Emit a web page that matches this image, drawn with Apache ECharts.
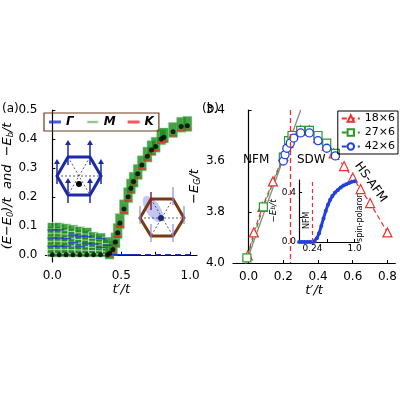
<!DOCTYPE html><html><head><meta charset="utf-8"><script src="https://cdn.jsdelivr.net/npm/echarts@6/dist/echarts.min.js"></script>
<style>body{margin:0}#c{width:400px;height:400px}</style></head><body><div id="c"></div><script>
// Left panel: excitation levels for t'<=0.4
const lowX=[0,0.05,0.1,0.15,0.2,0.25,0.3,0.35,0.4];
const lowLevels=[[0.003,0.016,0.03,0.044,0.058,0.072,0.086,0.1],[0.003,0.016,0.03,0.044,0.058,0.072,0.086,0.1],[0.003,0.016,0.03,0.043,0.056,0.07,0.083,0.096],[0.003,0.016,0.029,0.042,0.055,0.068,0.08,0.092],[0.003,0.015,0.028,0.04,0.052,0.064,0.076,0.087],[0.003,0.015,0.027,0.039,0.05,0.062,0.073,0.083],[0.003,0.015,0.026,0.037,0.048,0.058,0.068],[0.003,0.014,0.025,0.035,0.045,0.055,0.064],[0.003,0.013,0.023,0.033,0.042,0.05]];
const lowBlue=[[0.03,0.058,0.086],[0.03,0.058,0.086],[0.03,0.056],[0.042,0.068],[0.028,0.064],[0.039,0.062],[0.037],[0.025,0.055],[0.033]];
// Binding energy -E_b/t
const ebX=[0,0.05,0.1,0.15,0.2,0.25,0.3,0.35,0.4,0.415,0.44,0.458,0.474,0.49,0.52,0.55,0.57,0.59,0.62,0.65,0.69,0.72,0.75,0.79,0.81,0.876,0.935,0.98];
const ebY=[0,0,0,0,0,0,0,0,0,0.005,0.018,0.044,0.076,0.11,0.158,0.2,0.23,0.253,0.28,0.31,0.34,0.362,0.374,0.4,0.406,0.425,0.443,0.446];
// Right panel: ground-state energy
const x18=[-0.005,0.03,0.08,0.14,0.2,0.23,0.25,0.3,0.35,0.4,0.45,0.49,0.55,0.6,0.645,0.7,0.8];
const y18=[3.97,3.88,3.78,3.68,3.58,3.53,3.5,3.48,3.48,3.51,3.54,3.57,3.62,3.665,3.71,3.765,3.88];
const x27=[-0.01,0.085,0.2,0.23,0.25,0.3,0.35,0.4,0.45,0.5];
const y27=[3.98,3.78,3.585,3.52,3.5,3.48,3.48,3.5,3.53,3.57];
const x42=[0.2,0.21,0.22,0.24,0.26,0.3,0.35,0.4,0.45,0.5];
const y42=[3.6,3.575,3.55,3.53,3.51,3.49,3.49,3.52,3.55,3.58];
const fitX=[-0.02,0.3], fitY=[4.01,3.4];
// Inset
const inX=[0,0.05,0.1,0.15,0.2,0.25,0.28,0.32,0.36,0.4,0.44,0.48,0.52,0.56,0.6,0.65,0.7,0.75,0.8,0.85,0.9,0.95,1.0];
const inY=[0,0,0,0,0,0,0.005,0.03,0.07,0.13,0.19,0.25,0.3,0.34,0.37,0.4,0.42,0.44,0.455,0.465,0.475,0.485,0.49];

const ch=echarts.init(document.getElementById('c'));
const F='DejaVu Sans';
const green=[],blue=[],ghi=[],red=[];
lowX.forEach((x,i)=>{lowLevels[i].forEach(v=>green.push([x,v]));lowBlue[i].forEach(v=>blue.push([x,v]));});
ebX.forEach((x,i)=>{if(x>0.41){ghi.push([x,ebY[i]+0.006]);red.push([x,ebY[i]-0.013]);}});
const z=(a,b)=>a.map((v,i)=>[v,b[i]]);
const ax={axisLine:{lineStyle:{color:'#000',width:1.2}},axisTick:{inside:true,length:3,lineStyle:{color:'#000'}},splitLine:{show:false},axisLabel:{color:'#000',fontFamily:F,fontSize:12}};
const rich={i:{fontStyle:'italic',fontFamily:F,fontSize:13,color:'#000'},s:{fontStyle:'italic',fontFamily:F,fontSize:8,color:'#000',verticalAlign:'bottom',padding:[6,0,0,0]}};
ch.setOption({
animation:false,
grid:[{left:39,top:110,width:158,height:152},{left:233,top:110,width:165,height:153},{left:298,top:180,width:61,height:62}],
legend:[{data:[{name:'Γ',icon:'rect',itemStyle:{color:'#2030d0'}},{name:'M',icon:'rect',itemStyle:{color:'#1a8a1a'}},{name:'K',icon:'rect',itemStyle:{color:'#f03030'}}],left:44,top:113,orient:'horizontal',itemGap:12,itemWidth:12,itemHeight:3,borderColor:'#6b3a1f',borderWidth:1.2,padding:[3,5],textStyle:{fontFamily:F,fontSize:12,fontWeight:'bold',fontStyle:'italic',color:'#000'}},
{data:['18×6','27×6','42×6'],right:2,top:111,orient:'vertical',itemGap:3,itemWidth:18,itemHeight:8,borderColor:'#000',borderWidth:1,padding:[2,3],textStyle:{fontFamily:F,fontSize:11,color:'#000'}}],
xAxis:[Object.assign({},ax,{gridIndex:0,type:'value',min:-0.05,max:1.05,axisLabel:Object.assign({},ax.axisLabel,{customValues:[0,0.5,1],formatter:v=>v.toFixed(1)}),axisTick:Object.assign({},ax.axisTick,{customValues:[0,0.25,0.5,0.75,1]}),name:"{i|t′/t}",nameLocation:'middle',nameGap:18,nameTextStyle:{rich}}),
Object.assign({},ax,{gridIndex:1,type:'value',min:-0.09,max:0.845,axisLabel:Object.assign({},ax.axisLabel,{customValues:[0,0.2,0.4,0.6,0.8],formatter:v=>v.toFixed(1)}),axisTick:Object.assign({},ax.axisTick,{customValues:[0,0.2,0.4,0.6,0.8]}),name:"{i|t′/t}",nameLocation:'middle',nameGap:18,nameTextStyle:{rich}}),
Object.assign({},ax,{gridIndex:2,type:'value',min:-0.02,max:1.08,axisLabel:{color:'#000',fontFamily:F,fontSize:9,margin:2,customValues:[0,0.24,1],formatter:v=>v==0.24?'0.24':v.toFixed(1)},axisTick:Object.assign({},ax.axisTick,{customValues:[0,0.5,1]})})],
yAxis:[Object.assign({},ax,{gridIndex:0,type:'value',min:-0.025,max:0.5,axisLabel:Object.assign({},ax.axisLabel,{customValues:[0,0.1,0.2,0.3,0.4,0.5],formatter:v=>v.toFixed(1)}),axisTick:Object.assign({},ax.axisTick,{customValues:[0,0.1,0.2,0.3,0.4,0.5]}),name:"{i|(E−E}{s|0}{i|)/t  and  −E}{s|b}{i|/t}",nameLocation:'middle',nameGap:26,nameTextStyle:{rich}}),
Object.assign({},ax,{gridIndex:1,type:'value',min:3.4,max:4.0,interval:0.2,inverse:true,axisLabel:Object.assign({},ax.axisLabel,{formatter:v=>v.toFixed(1)}),name:"{i|−E}{s|G}{i|/t}",nameLocation:'middle',nameGap:24,nameTextStyle:{rich}}),
Object.assign({},ax,{gridIndex:2,type:'value',min:0,max:0.5,axisLabel:{color:'#000',fontFamily:F,fontSize:9,margin:2,customValues:[0,0.4],formatter:v=>v.toFixed(1)},axisTick:Object.assign({},ax.axisTick,{customValues:[0,0.2,0.4]}),name:"{i|−E}{s|b}{i|/t}",nameLocation:'middle',nameGap:14,nameTextStyle:{rich:{i:{fontStyle:'italic',fontSize:9,fontFamily:F},s:{fontStyle:'italic',fontSize:6,fontFamily:F}}}})],
series:[
{name:'M',type:'scatter',xAxisIndex:0,yAxisIndex:0,symbol:'rect',symbolSize:[10,6.5],itemStyle:{color:'#1a8a1a',borderColor:'#fff',borderWidth:0.7},data:green,z:2},
{name:'Γ',type:'scatter',xAxisIndex:0,yAxisIndex:0,symbol:'rect',symbolSize:[10,1.5],itemStyle:{color:'#2030d0'},data:blue,z:3},
{name:'M',type:'scatter',xAxisIndex:0,yAxisIndex:0,symbol:'rect',symbolSize:[9,15],itemStyle:{color:'#1a8a1a',borderColor:'#7fd07f',borderWidth:0.5},data:ghi,z:2},
{name:'K',type:'scatter',xAxisIndex:0,yAxisIndex:0,symbol:'rect',symbolSize:[8,1.5],itemStyle:{color:'#f03030'},data:red,z:3},
{name:'Γ',type:'line',xAxisIndex:0,yAxisIndex:0,showSymbol:false,lineStyle:{color:'#2030d0',width:1.5},data:[[0.4,0],[0.6,0]]},
{name:'Γ',type:'line',xAxisIndex:0,yAxisIndex:0,showSymbol:false,lineStyle:{color:'#2030d0',width:1.5,type:[6,4]},data:[[0.6,0],[1.0,0]]},
{type:'scatter',xAxisIndex:0,yAxisIndex:0,symbolSize:5,itemStyle:{color:'#000'},data:z(ebX,ebY),z:4},
{type:'line',xAxisIndex:1,yAxisIndex:1,showSymbol:false,lineStyle:{color:'#888',width:1.3},data:z(fitX,fitY)},
{name:'18×6',type:'line',xAxisIndex:1,yAxisIndex:1,symbol:'triangle',symbolSize:9,lineStyle:{color:'#f03030',width:1.2,type:[5,3]},itemStyle:{color:'#fff',borderColor:'#f03030',borderWidth:1.2},data:z(x18,y18)},
{name:'27×6',type:'line',xAxisIndex:1,yAxisIndex:1,symbol:'rect',symbolSize:8,lineStyle:{color:'#2a9a2a',width:1.2,type:[5,3]},itemStyle:{color:'#fff',borderColor:'#2a9a2a',borderWidth:1.2},data:z(x27,y27)},
{name:'42×6',type:'line',xAxisIndex:1,yAxisIndex:1,symbol:'circle',symbolSize:8,lineStyle:{color:'#2040e0',width:1.2,type:[5,3]},itemStyle:{color:'#fff',borderColor:'#2040e0',borderWidth:1.3},data:z(x42,y42),
 markLine:{silent:true,symbol:'none',label:{show:false},lineStyle:{color:'#f03030',type:[5,3],width:1.3},data:[{xAxis:0.24}]}},
{type:'line',xAxisIndex:2,yAxisIndex:2,symbol:'circle',symbolSize:4,lineStyle:{color:'#2040e0',width:3},itemStyle:{color:'#2040e0'},data:z(inX,inY),
 markLine:{silent:true,symbol:'none',label:{show:false},lineStyle:{color:'#f03030',type:[4,3],width:1.2},data:[{xAxis:0.24}]}}
],
graphic:[
{type:'text',left:2,top:103,style:{text:'(a)',font:'12px DejaVu Sans'}},
{type:'text',left:202,top:103,style:{text:'(b)',font:'12px DejaVu Sans'}},
{type:'text',left:243,top:154,style:{text:'NFM',font:'12px DejaVu Sans'}},
{type:'text',left:297,top:154,style:{text:'SDW',font:'12px DejaVu Sans'}},
{type:'text',x:362,y:160,rotation:-0.95,style:{text:'HS-AFM',font:'12px DejaVu Sans'}},
{type:'text',x:303,y:229,rotation:Math.PI/2,style:{text:'NFM',font:'8px DejaVu Sans'}},
{type:'text',x:356,y:242,rotation:Math.PI/2,style:{text:'spin-polaron',font:'8px DejaVu Sans'}},
{type:'polygon',shape:{points:[[57,176],[68,157],[90,157],[101,176],[90,195],[68,195]]},style:{fill:'none',stroke:'#1c2aa8',lineWidth:3}},
{type:'polyline',shape:{points:[[57,176],[101,176]]},style:{stroke:'#333',lineDash:[2,2],lineWidth:0.8}},
{type:'polyline',shape:{points:[[68,157],[90,195]]},style:{stroke:'#333',lineDash:[2,2],lineWidth:0.8}},
{type:'polyline',shape:{points:[[90,157],[68,195]]},style:{stroke:'#333',lineDash:[2,2],lineWidth:0.8}},
{type:'circle',shape:{cx:79,cy:184,r:3},style:{fill:'#000'}},
...[[57,176],[68,157],[90,157],[101,176],[90,195],[68,195]].map(p=>({type:'polyline',shape:{points:[[p[0],p[1]+8],[p[0],p[1]-14]]},style:{stroke:'#1c2aa8',lineWidth:1.5}})),
...[[57,176],[68,157],[90,157],[101,176],[90,195],[68,195]].map(p=>({type:'polygon',shape:{points:[[p[0]-3,p[1]-12],[p[0]+3,p[1]-12],[p[0],p[1]-17]]},style:{fill:'#1c2aa8'}})),
{type:'ellipse',shape:{cx:153,cy:209,rx:7,ry:15},rotation:0.6,originX:153,originY:209,style:{fill:'rgba(120,130,230,0.45)'}},
{type:'polygon',shape:{points:[[140,218],[151,199],[173,199],[184,218],[173,236],[151,236]]},style:{fill:'none',stroke:'#7a3a10',lineWidth:3}},
{type:'polyline',shape:{points:[[140,218],[184,218]]},style:{stroke:'#333',lineDash:[2,2],lineWidth:0.8}},
{type:'polyline',shape:{points:[[151,199],[173,236]]},style:{stroke:'#333',lineDash:[2,2],lineWidth:0.8}},
{type:'polyline',shape:{points:[[173,199],[151,236]]},style:{stroke:'#333',lineDash:[2,2],lineWidth:0.8}},
{type:'circle',shape:{cx:161,cy:218,r:3},style:{fill:'#1c2a70'}},
...[[140,218],[173,199],[184,218],[173,236],[151,236]].map(p=>({type:'polyline',shape:{points:[[p[0],p[1]+6],[p[0],p[1]-12]]},style:{stroke:'#8a8ae0',lineWidth:1.2}})),
{type:'polyline',shape:{points:[[151,192],[151,210]]},style:{stroke:'#8a2040',lineWidth:1.5}}
]
});
</script></body></html>
